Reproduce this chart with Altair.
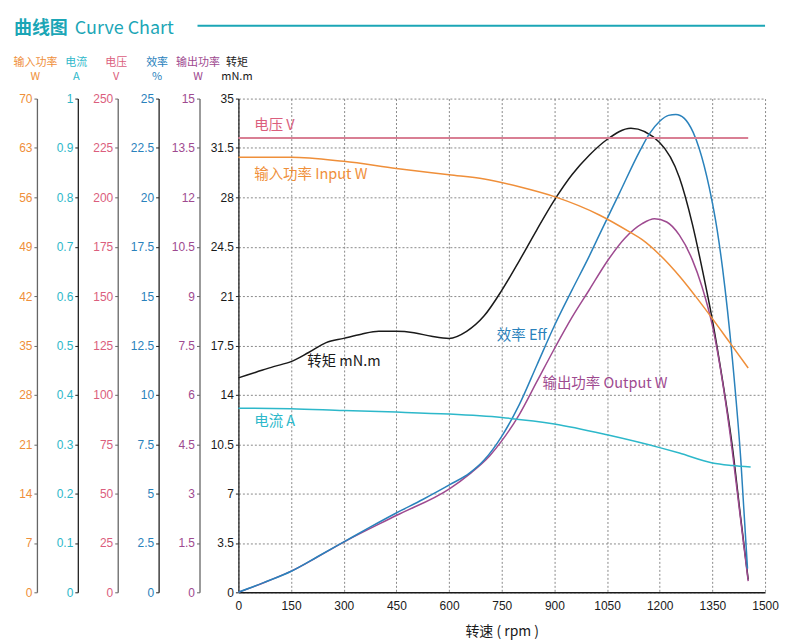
import altair as alt
import pandas as pd

# ---------------- data ----------------
rpm_torque = [0, 50, 100, 150, 200, 250, 300, 350, 400, 450, 500, 550, 600, 650, 700, 750, 800,
              850, 900, 950, 1000, 1050, 1118, 1199, 1256, 1293, 1322, 1350, 1379, 1407, 1431, 1452]
torque = [15.2, 15.6, 16.0, 16.35, 17.0, 17.7, 18.0, 18.3, 18.5, 18.5, 18.4, 18.15, 18.0, 18.5, 19.6,
          21.4, 23.5, 25.7, 27.8, 29.6, 31.0, 32.1, 32.9, 31.9, 29.4, 26.1, 22.8, 19.3, 15.0, 10.3, 5.2, 0.9]

rpm_eff = [0, 72, 152, 225, 304, 375, 451, 525, 602, 659, 700, 750, 800, 850, 900, 950, 1000, 1028,
           1085, 1142, 1170, 1200, 1225, 1246, 1270, 1295, 1312, 1341, 1364, 1379, 1407, 1431, 1450]
eff = [0, 0.49, 1.08, 1.8, 2.59, 3.3, 4.03, 4.7, 5.45, 6.05, 6.7, 7.9, 9.5, 11.5, 13.5, 15.3, 17.05,
       18.1, 20.2, 22.3, 23.2, 23.85, 24.15, 24.2, 24.0, 23.3, 22.5, 20.5, 18.3, 16.4, 11.8, 6.7, 1.2]

rpm_out = [0, 72, 152, 304, 451, 602, 659, 716, 750, 800, 850, 900, 950, 1000, 1050, 1100, 1150,
           1185, 1220, 1256, 1293, 1320, 1350, 1398, 1426, 1452]
out_w = [0, 0.29, 0.65, 1.55, 2.34, 3.15, 3.6, 4.15, 4.6, 5.4, 6.4, 7.4, 8.35, 9.2, 10.05, 10.75, 11.2,
         11.35, 11.25, 10.85, 10.1, 9.3, 8.1, 5.0, 2.6, 0.34]

rpm_in = [0, 150, 300, 450, 600, 700, 800, 900, 1028, 1114, 1150, 1199, 1260, 1300, 1350, 1398, 1452]
in_w = [61.7, 61.7, 61.1, 60.1, 59.2, 58.6, 57.5, 56.1, 53.5, 51.1, 50.0, 47.9, 44.6, 42.1, 38.8,
        35.5, 31.8]

rpm_cur = [0, 150, 300, 450, 600, 750, 900, 1050, 1200, 1256, 1350, 1406, 1459]
current = [0.373, 0.372, 0.368, 0.365, 0.361, 0.354, 0.341, 0.319, 0.293, 0.282, 0.262, 0.257, 0.254]

rpm_volt = [0, 1452]
voltage = [230, 230]

x_ticks = [0, 150, 300, 450, 600, 750, 900, 1050, 1200, 1350, 1500]
torque_ticks = [0, 3.5, 7, 10.5, 14, 17.5, 21, 24.5, 28, 31.5, 35]
out_ticks = [0, 1.5, 3, 4.5, 6, 7.5, 9, 10.5, 12, 13.5, 15]
eff_ticks = [0, 2.5, 5, 7.5, 10, 12.5, 15, 17.5, 20, 22.5, 25]
volt_ticks = [0, 25, 50, 75, 100, 125, 150, 175, 200, 225, 250]
cur_ticks = [0, 0.1, 0.2, 0.3, 0.4, 0.5, 0.6, 0.7, 0.8, 0.9, 1]
in_ticks = [0, 7, 14, 21, 28, 35, 42, 49, 56, 63, 70]

# series labels: (text, rpm, value)
lbl_volt = ("电压 V", 45, 236)
lbl_in = ("输入功率 Input W", 45, 59.1)
lbl_torque = ("转矩 mN.m", 196, 16.3)
lbl_eff = ("效率 Eff", 736, 13.0)
lbl_out = ("输出功率 Output W", 866, 6.33)
lbl_cur = ("电流 A", 45, 0.345)

# ---------------- styling ----------------
CJK = "Noto Sans CJK SC"
NUM = "Liberation Sans Narrow, Liberation Sans, sans-serif"
TEAL = "#1BA6B6"
ORANGE = "#EF8F3A"
CYAN = "#2DB8CA"
PINK = "#DB5E7D"
PINK_LINE = "#D97F94"
BLUE = "#2A82BC"
PURPLE = "#9E4A90"
BLACK = "#1A1A1A"
GRAY_AX = "#666666"
DARK_AX = "#222222"

W, H = 528, 495

x_axis = alt.Axis(values=x_ticks, labelExpr="'' + datum.value", title="转速 ( rpm )",
                  grid=True, gridDash=[2, 2], gridColor="#8a8a8a", gridWidth=1,
                  domainColor=BLACK, domainWidth=1.5, tickSize=0, labelPadding=8,
                  labelFont=NUM, labelFontSize=12, labelColor=BLACK, labelFlush=False,
                  titleFont=CJK, titleFontSize=14, titleFontWeight="normal",
                  titleColor=BLACK, titlePadding=13)
x_scale = alt.Scale(domain=[0, 1500], nice=False, zero=False)


def y_axis(title, offset, color, values, dom_color, grid=False):
    return alt.Axis(
        orient="left", offset=offset, values=values, labelExpr="'' + datum.value", title=title,
        titleAngle=0, titleAlign="center", titleBaseline="alphabetic", titleX=-2, titleY=-33,
        titleFont=CJK, titleFontSize=11, titleFontWeight="normal", titleColor=color,
        titleLineHeight=14,
        labelFont=NUM, labelFontSize=12, labelColor=color, labelPadding=2, labelFlush=False,
        tickSize=3, tickColor=dom_color, domainColor=dom_color, domainWidth=1.3,
        grid=grid, gridDash=[2, 2], gridColor="#8a8a8a", gridWidth=1,
    )


def series(rpm, vals, domain, axis, color, width=1.5):
    df = pd.DataFrame({"rpm": rpm, "v": vals})
    return alt.Chart(df).mark_line(color=color, strokeWidth=width, interpolate="monotone").encode(
        x=alt.X("rpm:Q", scale=x_scale, axis=x_axis),
        y=alt.Y("v:Q", scale=alt.Scale(domain=domain, nice=False, zero=False), axis=axis),
    )


def label(lbl, domain, color):
    df = pd.DataFrame({"t": [lbl[0]], "rpm": [lbl[1]], "v": [lbl[2]]})
    return alt.Chart(df).mark_text(align="left", baseline="middle", font=CJK, fontSize=14.5,
                                   color=color).encode(
        x=alt.X("rpm:Q", scale=x_scale, axis=x_axis),
        y=alt.Y("v:Q", scale=alt.Scale(domain=domain, nice=False, zero=False), axis=None),
        text="t:N",
    )


layers = [
    series(rpm_torque, torque, [0, 35],
           y_axis(["转矩", "mN.m"], 0, BLACK, torque_ticks, DARK_AX, grid=True), BLACK),
    series(rpm_out, out_w, [0, 15],
           y_axis(["输出功率", "W"], 39, PURPLE, out_ticks, GRAY_AX), PURPLE),
    series(rpm_eff, eff, [0, 25],
           y_axis(["效率", "%"], 80, BLUE, eff_ticks, DARK_AX), BLUE),
    series(rpm_volt, voltage, [0, 250],
           y_axis(["电压", "V"], 121, PINK, volt_ticks, GRAY_AX), PINK_LINE, 2),
    series(rpm_cur, current, [0, 1],
           y_axis(["电流", "A"], 161, CYAN, cur_ticks, DARK_AX), CYAN),
    series(rpm_in, in_w, [0, 70],
           y_axis(["输入功率", "W"], 202, ORANGE, in_ticks, GRAY_AX), ORANGE),
    label(lbl_torque, [0, 35], BLACK),
    label(lbl_out, [0, 15], PURPLE),
    label(lbl_eff, [0, 25], BLUE),
    label(lbl_volt, [0, 250], PINK),
    label(lbl_cur, [0, 1], CYAN),
    label(lbl_in, [0, 70], ORANGE),
]

one = pd.DataFrame({"a": [0]})
title_cn = alt.Chart(one).mark_text(text="曲线图", align="left", baseline="middle", font=CJK,
                                    fontSize=18, fontWeight="bold", color=TEAL).encode(
    x=alt.value(-225), y=alt.value(-70))
title_en = alt.Chart(one).mark_text(text="Curve Chart", align="left", baseline="middle", font=CJK,
                                    fontSize=18, color=TEAL).encode(
    x=alt.value(-164), y=alt.value(-70))
title_rule = alt.Chart(one).mark_rule(color=TEAL, strokeWidth=2).encode(
    x=alt.value(-41), x2=alt.value(W), y=alt.value(-73))

chart = alt.layer(*layers, title_cn, title_en, title_rule).resolve_scale(
    y="independent"
).properties(
    width=W, height=H,
    padding={"top": 11, "left": 5, "right": 5, "bottom": 5},
).configure_view(stroke=None)

chart.save("out.html", embed_options={"renderer": "svg", "actions": False})
